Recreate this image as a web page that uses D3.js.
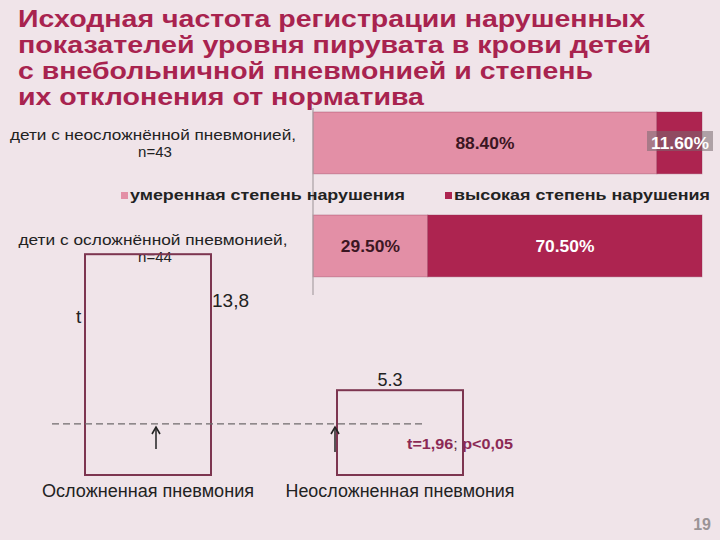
<!DOCTYPE html>
<html><head><meta charset="utf-8">
<script src="https://cdn.jsdelivr.net/npm/d3@7"></script>
<style>html,body{margin:0;padding:0;background:#f0e4e9;}svg{display:block;}</style>
</head><body>
<script>
// ---- data ----
const titleLines = ["Исходная частота регистрации нарушенных","показателей уровня пирувата в крови детей","с внебольничной пневмонией и степень","их отклонения от норматива"];
const groups = ["дети с неосложнённой пневмонией,","дети с осложнённой пневмонией,"];
const groupN = ["n=43","n=44"];
const moderate = [88.4, 29.5];
const severe = [11.6, 70.5];
const seriesNames = ["умеренная степень нарушения","высокая степень нарушения"];
const pCategories = ["Осложненная пневмония","Неосложненная пневмония"];
const pValues = [13.8, 5.3];
const pLabels = ["13,8","5.3"];
const thresholdValue = 3.2;
const statText = ["t=1,96", "; ", "p<0,05"];
const pageNo = "19";

const W=720,H=540;
const svg=d3.select("body").append("svg").attr("width",W).attr("height",H);
svg.append("rect").attr("width",W).attr("height",H).attr("fill","#f0e4e9");
const FONT="'Liberation Sans', Arial, sans-serif";

// title
const titleW=[627,633,575,406];
svg.append("g").selectAll("text").data(titleLines).join("text")
  .attr("x",18).attr("y",(d,i)=>27+i*26)
  .attr("font-family",FONT).attr("font-weight","bold").attr("font-size",24)
  .attr("fill","#a8234f").attr("textLength",(d,i)=>titleW[i]).attr("lengthAdjust","spacingAndGlyphs")
  .text(d=>d);

// ---- top stacked horizontal bar chart ----
const x=d3.scaleLinear().domain([0,100]).range([313,702]);
const y=d3.scaleBand().domain(groups).range([60.5,328.3]).paddingInner(0.4).paddingOuter(0.5);
const colors=["#e38fa6","#ad2450"];
const stackData=groups.map((g,i)=>({g, m:moderate[i], s:severe[i]}));
const stack=d3.stack().keys(["m","s"])(stackData);
const topG=svg.append("g");
stack.forEach((layer,li)=>{
  topG.selectAll(null).data(layer).join("rect")
    .attr("x",d=>x(d[0])).attr("width",d=>x(d[1])-x(d[0]))
    .attr("y",d=>y(d.data.g)).attr("height",y.bandwidth())
    .attr("fill",colors[li]).attr("stroke","rgba(140,40,75,0.35)").attr("stroke-width",1);
});
topG.append("line").attr("x1",x(0)).attr("x2",x(0)).attr("y1",108).attr("y2",295)
  .attr("stroke","#a9a0a4").attr("stroke-width",1.2);

// data labels
stackData.forEach((d,i)=>{
  const cy=y(d.g)+y.bandwidth()/2+6;
  topG.append("text").attr("x",x(d.m/2)).attr("y",cy).attr("text-anchor","middle")
    .attr("font-family",FONT).attr("font-weight","bold").attr("font-size",17).attr("fill","#3b1622")
    .attr("textLength",59).attr("lengthAdjust","spacingAndGlyphs")
    .text(d.m.toFixed(2)+"%");
  const sx = i===0 ? 680 : x(d.m+d.s/2);
  if(i===0){
    topG.append("rect").attr("x",647).attr("y",y(d.g)+19).attr("width",66).attr("height",20)
      .attr("fill","rgba(120,105,112,0.55)");
  }
  topG.append("text").attr("x",sx).attr("y",cy).attr("text-anchor","middle")
    .attr("font-family",FONT).attr("font-weight","bold").attr("font-size",17).attr("fill","#ffffff")
    .attr("textLength",i===0?58:59).attr("lengthAdjust","spacingAndGlyphs")
    .text(d.s.toFixed(2)+"%");
});

// group labels
const gW=[286,269];
groups.forEach((g,i)=>{
  const yy=y(g)+28+i*2;
  topG.append("text").attr("x",153).attr("y",yy).attr("text-anchor","middle")
    .attr("font-family",FONT).attr("font-size",15).attr("fill","#222")
    .attr("textLength",gW[i]).attr("lengthAdjust","spacingAndGlyphs").text(g);
  topG.append("text").attr("x",155).attr("y",yy+17).attr("text-anchor","middle")
    .attr("font-family",FONT).attr("font-size",15).attr("fill","#222").text(groupN[i]);
});

// legend
const legX=[121,445], legTW=[275,256];
seriesNames.forEach((s,i)=>{
  topG.append("rect").attr("x",legX[i]).attr("y",192).attr("width",7).attr("height",7).attr("fill",colors[i]);
  topG.append("text").attr("x",legX[i]+9).attr("y",200)
    .attr("font-family",FONT).attr("font-weight","bold").attr("font-size",15).attr("fill","#222")
    .attr("textLength",legTW[i]).attr("lengthAdjust","spacingAndGlyphs").text(s);
});

// ---- bottom outline bar chart ----
const bx=d3.scaleBand().domain(pCategories).range([22,526]).paddingInner(0.5).paddingOuter(0.25);
const by=d3.scaleLinear().domain([0,15]).range([475,235]);
const bot=svg.append("g");
bot.selectAll("rect.pb").data(pCategories).join("rect").attr("class","pb")
  .attr("x",d=>bx(d)).attr("width",bx.bandwidth())
  .attr("y",(d,i)=>by(pValues[i])).attr("height",(d,i)=>by(0)-by(pValues[i]))
  .attr("fill","none").attr("stroke","#7d3550").attr("stroke-width",2);

// dashed threshold
bot.append("line").attr("x1",52).attr("x2",424).attr("y1",by(thresholdValue)).attr("y2",by(thresholdValue))
  .attr("stroke","#6f6a6c").attr("stroke-width",1.2).attr("stroke-dasharray","7,4");

// value labels
bot.append("text").attr("x",bx(pCategories[0])+bx.bandwidth()+1).attr("y",by(pValues[0])+53)
  .attr("font-family",FONT).attr("font-size",19).attr("fill","#222").text(pLabels[0]);
bot.append("text").attr("x",bx(pCategories[1])+bx.bandwidth()/2-10).attr("y",by(pValues[1])-4)
  .attr("text-anchor","middle").attr("font-family",FONT).attr("font-size",18).attr("fill","#222").text(pLabels[1]);
bot.append("text").attr("x",76).attr("y",323).attr("font-family",FONT).attr("font-size",19).attr("fill","#222").text("t");

// arrows
const arrows=[{x:156,y1:427,y2:449},{x:335,y1:427,y2:452}];
arrows.forEach(a=>{
  bot.append("line").attr("x1",a.x).attr("x2",a.x).attr("y1",a.y1+2).attr("y2",a.y2)
    .attr("stroke","#222").attr("stroke-width",1.5);
  bot.append("path").attr("d",`M${a.x-4},${a.y1+7}L${a.x},${a.y1}L${a.x+4},${a.y1+7}`)
    .attr("fill","none").attr("stroke","#222").attr("stroke-width",1.6);
});

// stat text
const st=bot.append("text").attr("x",407).attr("y",449).attr("font-family",FONT).attr("font-size",15.5)
  .attr("textLength",106).attr("lengthAdjust","spacingAndGlyphs");
st.append("tspan").attr("font-weight","bold").attr("fill","#8b2a55").text(statText[0]);
st.append("tspan").attr("fill","#5a2a3a").text(statText[1]);
st.append("tspan").attr("font-weight","bold").attr("fill","#8b2a55").text(statText[2]);

// category labels
const cW=[212,229];
pCategories.forEach((c,i)=>{
  bot.append("text").attr("x",bx(c)+bx.bandwidth()/2).attr("y",497).attr("text-anchor","middle")
    .attr("font-family",FONT).attr("font-size",17.5).attr("fill","#222")
    .attr("textLength",cW[i]).attr("lengthAdjust","spacingAndGlyphs").text(c);
});

// page number
svg.append("text").attr("x",711).attr("y",530).attr("text-anchor","end")
  .attr("font-family",FONT).attr("font-weight","bold").attr("font-size",16).attr("fill","#9a9396").text(pageNo);
</script>
</body></html>
